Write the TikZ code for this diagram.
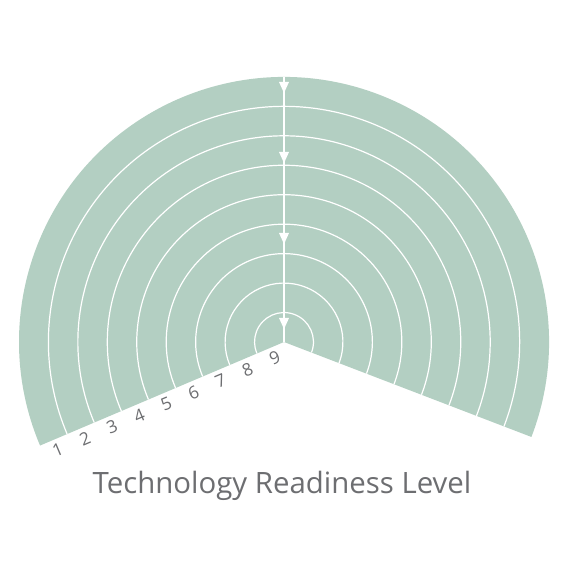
\documentclass[tikz,border=0pt]{standalone}
\usepackage{fontspec}
\setmainfont{Open Sans}
\usepackage{tikz}
\usetikzlibrary{calc}
\definecolor{trlgreen}{HTML}{B3CFC2}
\definecolor{trlgray}{HTML}{6D6E71}

\begin{document}
\begin{tikzpicture}[x=1bp, y=1bp,
	ring/.style={white, line width=1.2bp},
	lvl/.style={text=trlgray, font=\fontsize{17.5}{19}\selectfont, inner sep=0pt, rotate=23},
	title/.style={text=trlgray, font=\fontsize{29.5}{34}\selectfont, anchor=base}]
	\useasboundingbox (-284,-225) rectangle (283,342);
	\coordinate (c) at (0,0);
	\coordinate (top) at (90:265bp);
	\fill[trlgreen] (c) -- (-21:265bp) arc[start angle=-21, end angle=203, radius=265bp] -- cycle;
	\foreach \i in {1,...,8}
		\draw[ring] (-21:{\i*29.45bp}) arc[start angle=-21, end angle=203, radius=\i*29.45bp];
	\draw[ring] (c) -- (top);
	\foreach \r in {249,179,98,13}
		\fill[white] (-5,\r+11) -- (5,\r+11) -- (0,\r) -- cycle;
	\foreach \n in {1,...,9}
		\node[lvl] (lvl\n) at ($(203:{(9.5-\n)*29.45bp})+(293:11bp)$) {\n};
	\node[title] (caption) at (-2,-151) {Technology Readiness Level};
\end{tikzpicture}
\end{document}
